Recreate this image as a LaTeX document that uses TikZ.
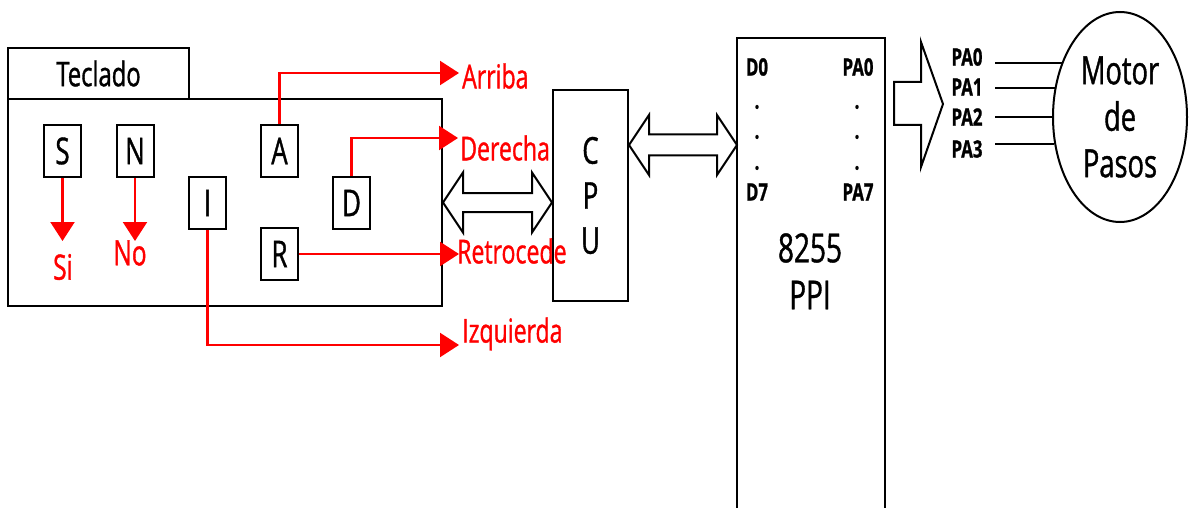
\documentclass[tikz,border=0pt]{standalone}
\usepackage{fontspec}
\setmainfont[FakeStretch=0.7,FakeBold=1]{Open Sans}
\usetikzlibrary{arrows.meta,shapes.geometric}
\begin{document}
\begin{tikzpicture}[x=1pt,y=-1pt,
  box/.style={draw, line width=2pt, inner sep=0pt},
  keybox/.style={box, minimum width=37pt, minimum height=52pt, font=\fontsize{37}{40}\selectfont},
  redarr/.style={draw=red, line width=2.2pt, -{Triangle[length=19pt,width=24pt]}},
  redlbl/.style={text=red, inner sep=0pt, font=\fontsize{33}{35}\selectfont},
  sino/.style={text=red, inner sep=0pt, font=\fontsize{35}{37}\selectfont},
  pinlbl/.style={inner sep=0pt, font=\bfseries\fontsize{24}{26}\selectfont},
  dotlbl/.style={inner sep=0pt, font=\bfseries\fontsize{24}{26}\selectfont},
  bigtxt/.style={inner sep=0pt, font=\fontsize{40}{46}\selectfont},
  wire/.style={draw, line width=2pt},
  blk/.style={draw, line width=2pt, line join=miter, fill=white}]
\useasboundingbox (0,0) rectangle (1189,508);

% Keyboard
\node[box, minimum width=434pt, minimum height=207pt] (kbd) at (225,202.5) {};
\node[box, minimum width=181pt, minimum height=51pt, font=\fontsize{34}{36}\selectfont] (tab) at (98.5,73.5) {Teclado};
\node[keybox] (S) at (62.5,151) {S};
\node[keybox] (N) at (135,151) {N};
\node[keybox] (A) at (279.5,151) {A};
\node[keybox] (I) at (207.5,203) {I};
\node[keybox] (D) at (351.5,203) {D};
\node[keybox] (R) at (279.5,254) {R};

% red outputs
\coordinate (siEnd) at (62.5,241);
\coordinate (noEnd) at (135,241);
\coordinate (arribaEnd) at (459,73);
\coordinate (derEnd) at (458,138);
\coordinate (retEnd) at (459,254);
\coordinate (izqEnd) at (459,345);
\draw[redarr] (S.south) -- (siEnd);
\draw[redarr] (N.south) -- (noEnd);
\draw[redarr] (A.north) |- (arribaEnd);
\draw[redarr] (D.north) |- (derEnd);
\draw[redarr] (R.east) -- (retEnd);
\draw[redarr] (I.south) |- (izqEnd);
\node[sino] (si) at (63,267) {Si};
\node[sino] (no) at (130,253) {No};
\node[redlbl, anchor=west] (arriba) at (462,76) {Arriba};
\node[redlbl, anchor=west] (derecha) at (460,148) {Derecha};
\node[redlbl, anchor=west] (retrocede) at (457,251) {Retrocede};
\node[redlbl, anchor=west] (izquierda) at (462,334) {Izquierda};

% CPU
\node[box, minimum width=75pt, minimum height=211pt, align=center, font=\fontsize{37}{45}\selectfont] (cpu) at (590.5,195.5) {C\\P\\U};

% keyboard <-> CPU
\draw[blk] (kbd.east) -- ++(20,-30) -- ++(0,20.5) -- ++(69,0) -- ++(0,-20.5) -- ++(20,30)
  -- ++(-20,30) -- ++(0,-20.5) -- ++(-69,0) -- ++(0,20.5) -- cycle;

% PPI
\node[minimum width=148pt, minimum height=482pt, inner sep=0pt] (ppi) at (811,279) {};
\draw[line width=2pt] (ppi.south west) -- (ppi.north west) -- (ppi.north east) -- (ppi.south east);
\node[pinlbl] (d0) at (757,67) {D0};
\node[pinlbl] (pa0i) at (858,67) {PA0};
\node[pinlbl] (d7) at (757,192) {D7};
\node[pinlbl] (pa7i) at (858,192) {PA7};
\foreach \yy/\nm in {107/a,137/b,168/c}{
  \node[dotlbl] (dl\nm) at (757,\yy) {.};
  \node[dotlbl] (dr\nm) at (857,\yy) {.};
}
\node[bigtxt] (chip) at (810,248) {8255};
\node[bigtxt] (ppit) at (810,295) {PPI};

% CPU <-> PPI
\draw[blk] (629,145) -- (649,115) -- (649,134.5) -- (717,134.5) -- (717,115) -- (737,145)
  -- (717,175) -- (717,155.5) -- (649,155.5) -- (649,175) -- cycle;

% PPI -> motor big arrow
\draw[blk] (894,82) -- (921,82) -- (921,42) -- (943,104) -- (921,167) -- (921,125) -- (894,125) -- cycle;

% Motor
\node[ellipse, draw, line width=2pt, minimum width=134pt, minimum height=210pt, inner sep=0pt,
  align=center, font=\fontsize{39}{46.5}\selectfont] (motor) at (1120,117) {Motor\\de\\Pasos};

\node[pinlbl] (pa0) at (967,57) {PA0};
\node[pinlbl] (pa1) at (967,87) {PA1};
\node[pinlbl] (pa2) at (967,117) {PA2};
\node[pinlbl] (pa3) at (967,149) {PA3};
\coordinate (w0) at (995,63);
\coordinate (w1) at (995,88);
\coordinate (w2) at (995,117);
\coordinate (w3) at (995,144);
\draw[wire] (w0) -- (w0 -| motor.136.8);
\draw[wire] (w1) -- (w1 -| motor.155.8);
\draw[wire] (w2) -- (w2 -| motor.180);
\draw[wire] (w3) -- (w3 -| motor.202.7);
\end{tikzpicture}
\end{document}
